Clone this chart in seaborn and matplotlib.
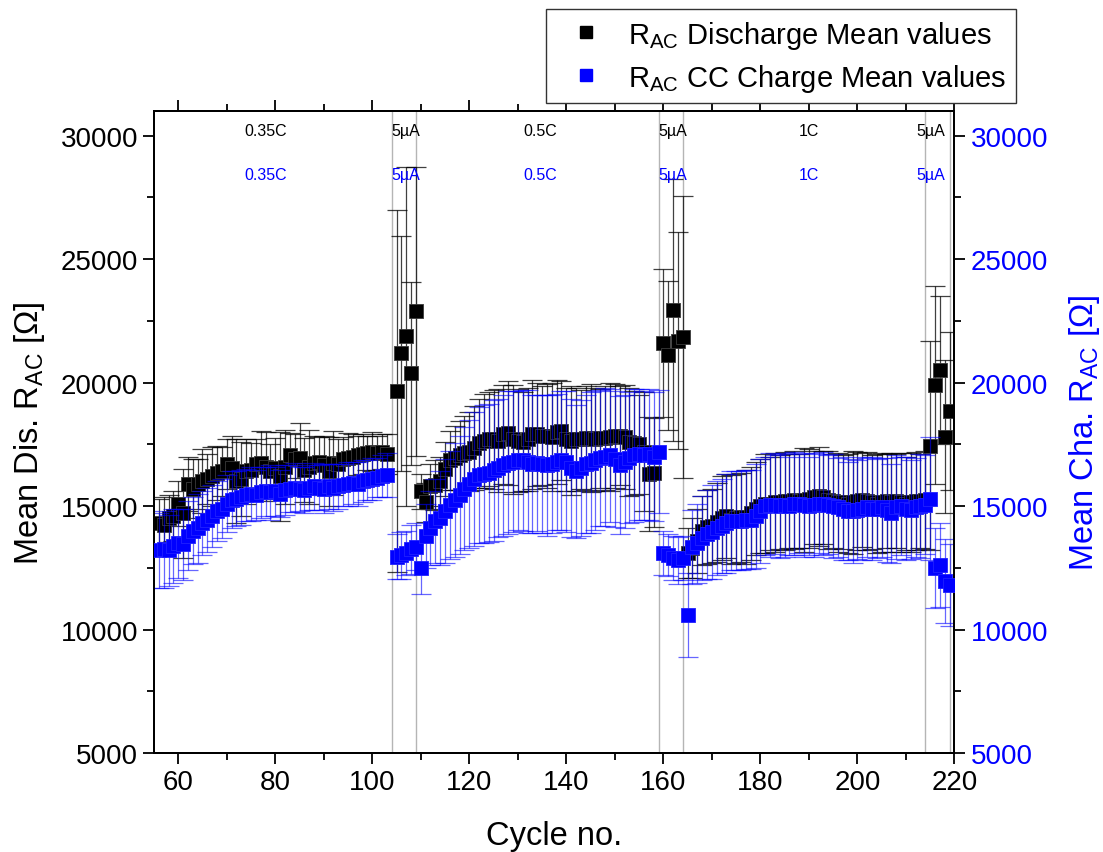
import numpy as np
import pandas as pd
import matplotlib
matplotlib.use("Agg")
import matplotlib.pyplot as plt
import seaborn as sns
from matplotlib.lines import Line2D
from matplotlib.ticker import MultipleLocator

# --- data ---------------------------------------------------------------
# discharge: cycles 56-103, 105-109 (5uA), 110-158, 160-164 (5uA), 165-214, 215-219 (5uA)
dis_cycles = np.r_[56:104, 105:110, 110:159, 160:165, 165:215, 215:220]
dis_mean_1 = [14300, 14250, 14500, 14600, 15100, 14700, 15900, 15700, 15900, 16000,
              16100, 16200, 16350, 16400, 16700, 16550, 16000, 16100, 16400, 16450,
              16700, 16750, 16600, 16400, 16550, 16200, 16600, 17050, 16900, 16950,
              16450, 16600, 16750, 16800, 16650, 16400, 16750, 16700, 16900, 16950,
              17000, 17050, 17100, 17150, 17200, 17150, 17200, 17100]
dis_mean_g1 = [19660, 21180, 21880, 20370, 22880]
dis_mean_3 = [15600, 15150, 15800, 15850, 16000, 16500, 16850, 16950, 17050, 17150,
              17200, 17350, 17550, 17650, 17700, 17700, 17650, 17900, 17950, 17700,
              17650, 17600, 17700, 17900, 17900, 17850, 17850, 17800, 18000, 18050,
              17700, 17650, 17700, 17700, 17750, 17750, 17700, 17750, 17750, 17800,
              17850, 17850, 17800, 17600, 17550, 17500, 17200, 16300, 16350]
dis_mean_g2 = [21600, 21100, 22950, 21700, 21850]
dis_mean_5 = [13100, 13300, 13600, 14000, 14150, 14200, 14350, 14500, 14600, 14450,
              14500, 14550, 14550, 14700, 14900, 15000, 15100, 15100, 15150, 15150,
              15200, 15200, 15250, 15200, 15250, 15300, 15350, 15400, 15350, 15250,
              15200, 15150, 15150, 15100, 15150, 15200, 15250, 15200, 15150, 15100,
              15150, 15200, 15150, 15200, 15150, 15100, 15150, 15200, 15200, 15250]
dis_mean_g3 = [17450, 19900, 20500, 17800, 18850]

dis_err_1 = [1000, 1100, 950, 1000, 900, 1800, 1100, 1200, 1000, 1300,
             1000, 1200, 1100, 1000, 1000, 1300, 1700, 1500, 1300, 1100,
             1000, 1300, 1400, 1100, 1200, 1800, 1500, 900, 1000, 1400,
             1300, 1500, 1100, 1000, 1200, 1400, 1300, 1000, 900, 1000,
             900, 800, 800, 700, 800, 700, 700, 800]
dis_err_g1 = [7340, 4750, 6870, 3700, 5870]
dis_err_3 = [700, 800, 900, 1000, 1000, 1100, 1200, 1300, 1400, 1500,
             1600, 1700, 1800, 1900, 1900, 2000, 2100, 2000, 2100, 2200,
             2100, 2000, 2100, 2200, 2100, 2000, 2100, 2200, 2100, 2000,
             2100, 2200, 2100, 2000, 2100, 2200, 2100, 2000, 2100, 2200,
             2100, 2000, 2100, 2200, 2100, 2000, 2400, 2300, 2200]
dis_err_g2 = [3000, 3000, 5300, 4400, 5700]
dis_err_5 = [1000, 1200, 1300, 1400, 1500, 1500, 1600, 1700, 1700, 1800,
             1800, 1800, 1900, 1900, 1900, 1900, 2000, 1900, 2000, 1900,
             2000, 1900, 2000, 1900, 2100, 2000, 1900, 2000, 1900, 2000,
             1900, 2000, 1900, 2000, 2100, 2000, 1900, 2000, 1900, 2000,
             2000, 1900, 2000, 1900, 2000, 1900, 2000, 2000, 1900, 2000]
dis_err_g3 = [4250, 4000, 3000, 3100, 3200]

# charge: cycles 56-103, 105-109, 110-159, 160-165, 166-214, 215-219
cha_cycles = np.r_[56:104, 105:110, 110:160, 160:166, 166:215, 215:220]
cha_mean_1 = [13200, 13250, 13200, 13400, 13500, 13450, 13800, 14000, 14100, 14300,
              14450, 14600, 14800, 14900, 15100, 15250, 15300, 15350, 15450, 15500,
              15450, 15550, 15600, 15550, 15600, 15500, 15650, 15700, 15750, 15700,
              15650, 15750, 15800, 15750, 15700, 15800, 15750, 15800, 15850, 15900,
              15950, 15900, 16000, 16050, 16100, 16150, 16200, 16250]
cha_mean_g1 = [12950, 13000, 13100, 13250, 13350]
cha_mean_3 = [12500, 13800, 14100, 14400, 14500, 14800, 15050, 15250, 15450, 15700,
              15900, 16100, 16250, 16300, 16350, 16450, 16550, 16650, 16750, 16800,
              16850, 16850, 16800, 16700, 16750, 16700, 16650, 16700, 16800, 16850,
              16800, 16550, 16400, 16550, 16700, 16750, 16850, 16950, 17000, 17050,
              16900, 16650, 16800, 16950, 17050, 17100, 17050, 17100, 17000, 17200]
cha_mean_g2 = [13100, 13000, 12900, 12800, 12900, 10600]
cha_mean_5 = [13350, 13500, 13700, 13850, 13950, 14100, 14200, 14300, 14400, 14400,
              14400, 14450, 14450, 14600, 14800, 15000, 15050, 15050, 15000, 15050,
              15000, 15100, 15100, 15050, 15000, 15050, 15100, 15100, 15050, 15000,
              14950, 14900, 14800, 14800, 14850, 14900, 14950, 14900, 14900, 14950,
              14850, 14700, 14950, 15000, 14900, 14850, 14950, 15000, 15050]
cha_mean_g3 = [15300, 12500, 12600, 11950, 11800]

cha_err_1 = [1500, 1550, 1450, 1500, 1400, 1450, 1400, 1350, 1400, 1300,
             1300, 1250, 1200, 1200, 1150, 1150, 1100, 1100, 1050, 1100,
             1000, 1050, 1000, 1100, 1000, 950, 1000, 950, 1000, 900,
             950, 900, 950, 900, 1000, 900, 950, 900, 850, 900,
             850, 900, 850, 800, 850, 800, 850, 900]
cha_err_g1 = [900, 950, 900, 1000, 950]
cha_err_3 = [1050, 1300, 1500, 1700, 1900, 2100, 2200, 2300, 2400, 2500,
             2600, 2700, 2750, 2800, 2800, 2850, 2800, 2850, 2900, 2850,
             2800, 2850, 2900, 2800, 2750, 2800, 2850, 2800, 2750, 2800,
             2850, 2800, 2700, 2750, 2800, 2850, 2800, 2750, 2800, 2700,
             2750, 2800, 2700, 2650, 2700, 2650, 2600, 2650, 2600, 2500]
cha_err_g2 = [900, 850, 900, 950, 900, 1700]
cha_err_5 = [1500, 1600, 1700, 1800, 1900, 1900, 1900, 2000, 2000, 2000,
             2000, 2000, 2000, 2100, 2100, 2000, 2100, 2000, 2100, 2100,
             2000, 2100, 2000, 2100, 2000, 2100, 2000, 2100, 2000, 2100,
             2000, 2100, 2000, 2100, 2000, 2100, 2000, 2100, 2000, 2000,
             2100, 2000, 2100, 2000, 2100, 2000, 2000, 2100, 2000]
cha_err_g3 = [2500, 1620, 1700, 1700, 1650]

step_lines = [104, 109, 159, 164, 214, 219]
step_labels = ["0.35C", "5µA", "0.5C", "5µA", "1C", "5µA"]
step_label_x = [78, 106.8, 134.7, 162, 190, 215.1]

dis = pd.DataFrame({
    "cycle": dis_cycles,
    "mean": dis_mean_1 + dis_mean_g1 + dis_mean_3 + dis_mean_g2 + dis_mean_5 + dis_mean_g3,
    "err": dis_err_1 + dis_err_g1 + dis_err_3 + dis_err_g2 + dis_err_5 + dis_err_g3,
})
cha = pd.DataFrame({
    "cycle": cha_cycles,
    "mean": cha_mean_1 + cha_mean_g1 + cha_mean_3 + cha_mean_g2 + cha_mean_5 + cha_mean_g3,
    "err": cha_err_1 + cha_err_g1 + cha_err_3 + cha_err_g2 + cha_err_5 + cha_err_g3,
})

# --- style ---------------------------------------------------------------
sns.set_theme(style="ticks")
plt.rcParams["font.family"] = ["Liberation Sans", "DejaVu Sans"]
plt.rcParams["mathtext.fontset"] = "custom"
plt.rcParams["mathtext.rm"] = "Liberation Sans"
plt.rcParams["mathtext.it"] = "Liberation Sans:italic"
plt.rcParams["axes.linewidth"] = 1.4
for k in ("text.color", "axes.labelcolor", "xtick.color", "ytick.color", "axes.edgecolor"):
    plt.rcParams[k] = "black"

fig = plt.figure(figsize=(11.03, 8.53), dpi=100)
ax = fig.add_axes([0.1396, 0.1161, 0.7257, 0.7526])
ax2 = ax.twinx()

for x in step_lines:
    ax.axvline(x, color="#b5b5b5", lw=1.0, zorder=1)

# discharge (left axis)
ax.errorbar(dis["cycle"], dis["mean"], yerr=dis["err"], fmt="none", ecolor="black",
            elinewidth=0.9, capsize=7, capthick=0.9, alpha=0.75, zorder=2)
sns.scatterplot(data=dis, x="cycle", y="mean", ax=ax, marker="s", s=100, color="black",
                edgecolor="#3a3a3a", linewidth=0.6, zorder=3, legend=False)

# charge (right axis)
ax2.errorbar(cha["cycle"], cha["mean"], yerr=cha["err"], fmt="none", ecolor="blue",
             elinewidth=0.9, capsize=7, capthick=0.9, alpha=0.6, zorder=2)
sns.scatterplot(data=cha, x="cycle", y="mean", ax=ax2, marker="s", s=100, color="blue",
                edgecolor="#2020ff", linewidth=0.6, zorder=3, legend=False)

for x, lab in zip(step_label_x, step_labels):
    ax.text(x, 30200, lab, ha="center", va="center", fontsize=11.5, color="black")
    ax.text(x, 28420, lab, ha="center", va="center", fontsize=11.5, color="blue")

for a in (ax, ax2):
    a.set_ylim(5000, 31000)
    a.yaxis.set_major_locator(MultipleLocator(5000))
    a.yaxis.set_minor_locator(MultipleLocator(2500))
ax.set_xlim(55, 220)
ax.xaxis.set_major_locator(MultipleLocator(20))
ax.xaxis.set_minor_locator(MultipleLocator(10))

ax.tick_params(which="both", direction="out", top=True, right=False, width=1.3,
               labelsize=20, colors="black")
ax.tick_params(which="major", length=8)
ax.tick_params(which="minor", length=5)
ax2.tick_params(which="both", direction="out", width=1.3, labelsize=20,
                color="black", labelcolor="blue")
ax2.tick_params(which="major", length=8)
ax2.tick_params(which="minor", length=5)

ax.set_xlabel("Cycle no.", fontsize=23.5, labelpad=18)
ax.set_ylabel(r"Mean Dis. R$_{\mathrm{AC}}$ [Ω]", fontsize=23.5, labelpad=10)
ax2.set_ylabel(r"Mean Cha. R$_{\mathrm{AC}}$ [Ω]", fontsize=23.5, color="blue", labelpad=14)

handles = [
    Line2D([], [], marker="s", color="black", linestyle="none", markersize=8),
    Line2D([], [], marker="s", color="blue", linestyle="none", markersize=8),
]
labels = [r"R$_{\mathrm{AC}}$ Discharge Mean values", r"R$_{\mathrm{AC}}$ CC Charge Mean values"]
leg = fig.legend(handles, labels, loc="upper right", bbox_to_anchor=(0.921, 0.988),
                 fontsize=21, frameon=True, fancybox=False, edgecolor="#333333",
                 framealpha=1, handlelength=2.1, handletextpad=0.4, borderpad=0.32,
                 labelspacing=0.38, borderaxespad=0)
leg.get_frame().set_linewidth(1.0)

fig.savefig("out.png", dpi=100)
